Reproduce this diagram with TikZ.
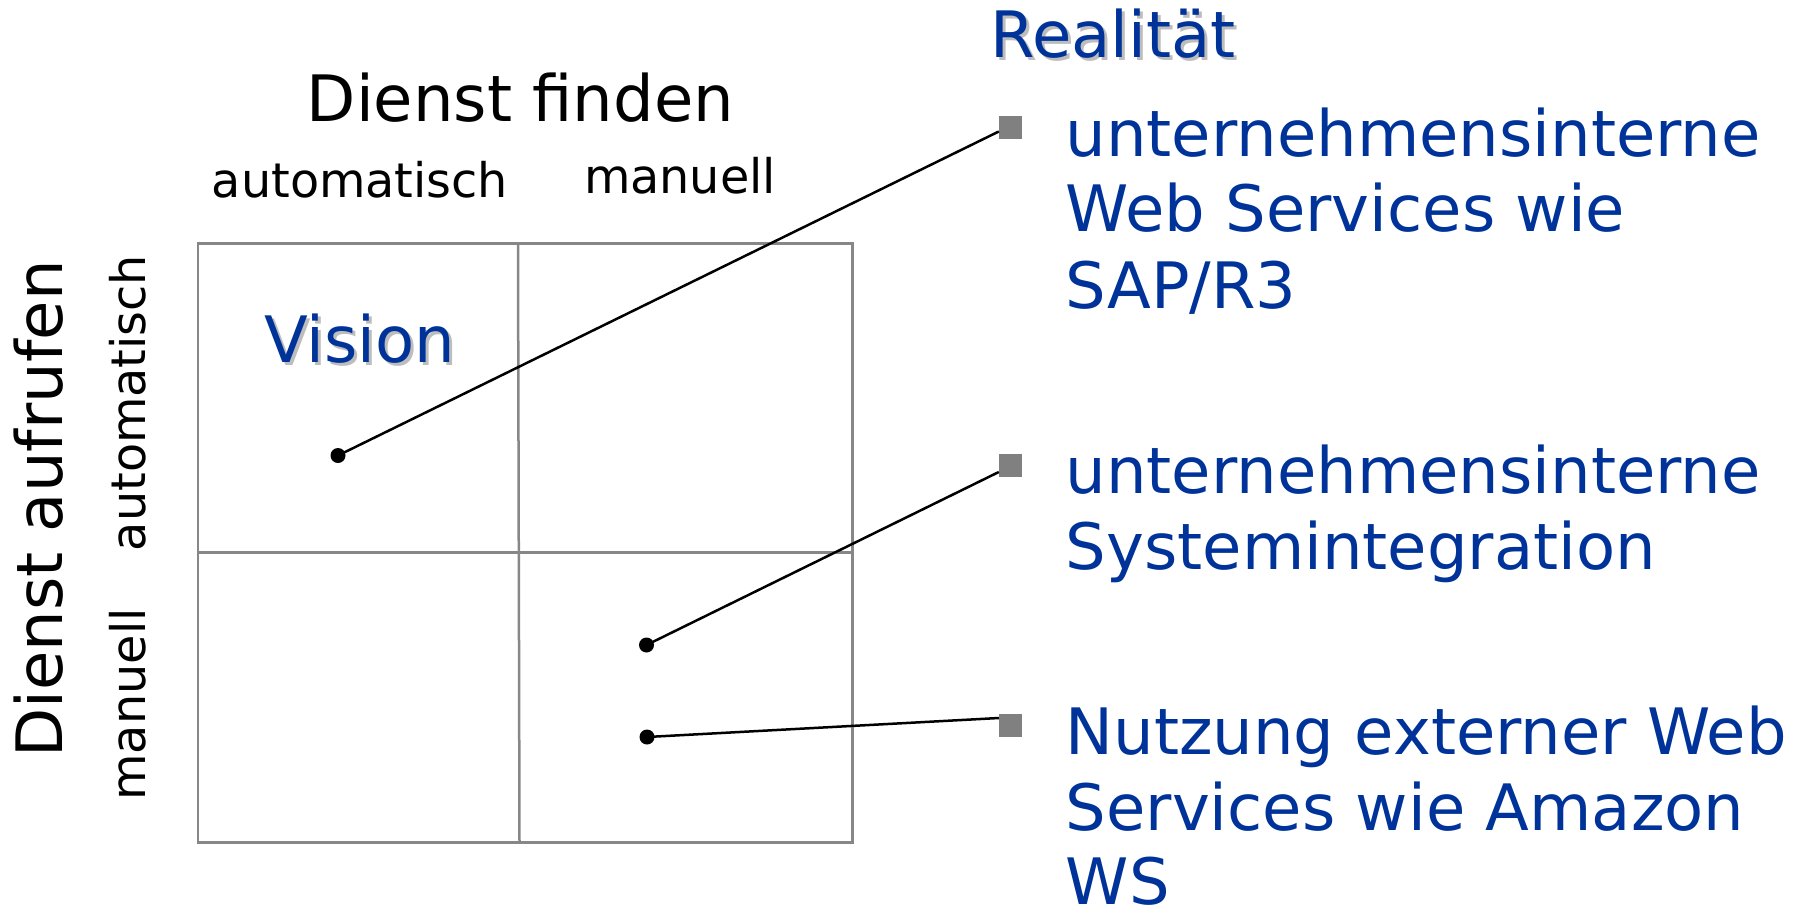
\documentclass[tikz,border=0pt]{standalone}
\usepackage{fontspec}
\setmainfont{DejaVu Sans}
\usetikzlibrary{calc}
\definecolor{deepblue}{HTML}{003399}
\definecolor{gridgray}{HTML}{878787}
\definecolor{bulletgray}{HTML}{808080}
\definecolor{shadowgray}{HTML}{BDBDBD}
\begin{document}
\begin{tikzpicture}[x=1pt,y=-1pt,
  big/.style={font=\fontsize{64}{77}\selectfont, inner sep=0, anchor=base},
  small/.style={font=\fontsize{47.7}{57}\selectfont, inner sep=0, anchor=base},
  itemline/.style={font=\fontsize{64}{77}\selectfont, inner sep=0, anchor=base west, text=deepblue},
  gridline/.style={draw=gridgray, line width=2.5pt},
  bulletsq/.style={fill=bulletgray, minimum size=23pt, inner sep=0},
  dotmark/.style={circle, fill=black, minimum size=15pt, inner sep=0},
  link/.style={line width=2.5pt, draw=black},
]
\useasboundingbox (0,0) rectangle (1810,908);

% axis titles
\node[big] (finden) at (520.5,121.7) {Dienst finden};
\node[small] (hauto) at (360,197) {automatisch};
\node[small] (hman) at (680,193) {manuell};
\node[big, rotate=90] (aufrufen) at (62,509) {Dienst aufrufen};
\node[small, rotate=90] (vauto) at (145,403) {automatisch};
\node[small, rotate=90] (vman) at (145,704.5) {manuell};

% 2x2 matrix
\draw[gridline] (198,243.5) rectangle (852.5,842.5);
\draw[gridline] (518,243.5) -- (519.5,842.5);
\draw[gridline] (198,552.5) -- (852.5,552.5);

% headings with shadow
\node[big, text=shadowgray] at (362.5,365) {Vision};
\node[big, text=deepblue] (vision) at (359.5,362) {Vision};
\node[big, text=shadowgray] at (1116,60) {Realität};
\node[big, text=deepblue] (realitaet) at (1113,57) {Realität};

% bullet squares
\node[bulletsq] (s1) at (1010.5,127) {};
\node[bulletsq] (s2) at (1010.5,465) {};
\node[bulletsq] (s3) at (1010.5,725) {};

% bullet texts
\node[itemline] (t1a) at (1065.5,156) {unternehmensinterne};
\node[itemline] (t1b) at (1065.5,231.5) {Web Services wie};
\node[itemline] (t1c) at (1065.5,308) {SAP/R3};
\node[itemline] (t2a) at (1065.5,493.5) {unternehmensinterne};
\node[itemline] (t2b) at (1065.5,569) {Systemintegration};
\node[itemline] (t3a) at (1065.5,754) {Nutzung externer Web};
\node[itemline] (t3b) at (1065.5,830) {Services wie Amazon};
\node[itemline] (t3c) at (1065.5,904) {WS};

% dots in the matrix and their connectors
\coordinate (d1) at (338,455.5);
\coordinate (d2) at (646.5,645);
\coordinate (d3) at (647,737);
\draw[link] (d1) -- ($(s1.west)+(0,4.5)$);
\draw[link] (d2) -- ($(s2.west)+(0,7)$);
\draw[link] (d3) -- ($(s3.west)+(0,-7)$);
\node[dotmark] (m1) at (d1) {};
\node[dotmark] (m2) at (d2) {};
\node[dotmark] (m3) at (d3) {};
\end{tikzpicture}
\end{document}
